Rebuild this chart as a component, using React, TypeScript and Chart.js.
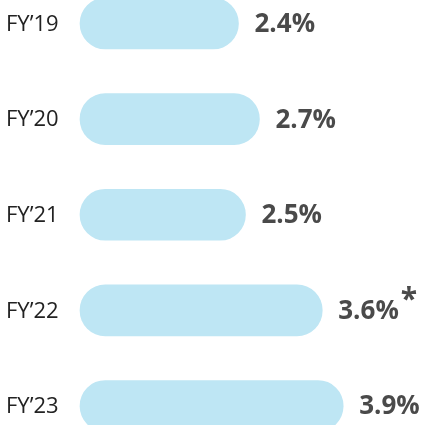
import React, { useEffect, useRef } from "react";
import { Chart, registerables } from "chart.js";

Chart.register(...registerables);

const categories = ["FY\u201919", "FY\u201920", "FY\u201921", "FY\u201922", "FY\u201923"];
const values = [2.4, 2.7, 2.5, 3.6, 3.9];
const valueLabels = ["2.4%", "2.7%", "2.5%", "3.6%", "3.9%"];
const footnoteMarks = ["", "", "", "*", ""];

const labelPlugin = {
  id: "customLabels",
  afterDatasetsDraw(chart: any) {
    const ctx = chart.ctx;
    const meta = chart.getDatasetMeta(0);
    ctx.save();
    meta.data.forEach((bar: any, i: number) => {
      const y = bar.y;
      ctx.font = "400 22px 'Open Sans'";
      ctx.fillStyle = "#222222";
      ctx.textAlign = "left";
      ctx.textBaseline = "middle";
      ctx.fillText(categories[i], 6, y + 1);
      ctx.font = "bold 26px 'Open Sans'";
      ctx.fillStyle = "#4a4a4a";
      const x = bar.x + 16;
      ctx.fillText(valueLabels[i], x, y + 1);
      if (footnoteMarks[i]) {
        const w = ctx.measureText(valueLabels[i]).width;
        ctx.font = "bold 30px 'Open Sans'";
        ctx.fillText(footnoteMarks[i], x + w + 2, y - 10);
      }
    });
    ctx.restore();
  },
};

export default function App() {
  const ref = useRef<HTMLCanvasElement>(null);
  useEffect(() => {
    if (!ref.current) return;
    const chart = new Chart(ref.current, {
      type: "bar",
      data: {
        labels: categories,
        datasets: [
          {
            data: values,
            base: 0.13,
            backgroundColor: "#bee6f4",
            borderRadius: 30,
            borderSkipped: false,
            barThickness: 51,
            clip: false as any,
          } as any,
        ],
      },
      options: {
        indexAxis: "y",
        animation: false,
        responsive: false,
        maintainAspectRatio: false,
        layout: { padding: { left: 80, right: 11, top: 23.5, bottom: 19 } },
        plugins: { legend: { display: false }, tooltip: { enabled: false } },
        scales: {
          x: { display: false, min: 0.13, max: 5 },
          y: { display: false, offset: false },
        },
      },
      plugins: [labelPlugin],
    });
    return () => chart.destroy();
  }, []);
  return (
    <div style={{ position: "fixed", left: 0, top: 0, width: 431, height: 425, background: "#fff" }}>
      <canvas ref={ref} width={431} height={425} style={{ width: 431, height: 425 }} />
    </div>
  );
}
